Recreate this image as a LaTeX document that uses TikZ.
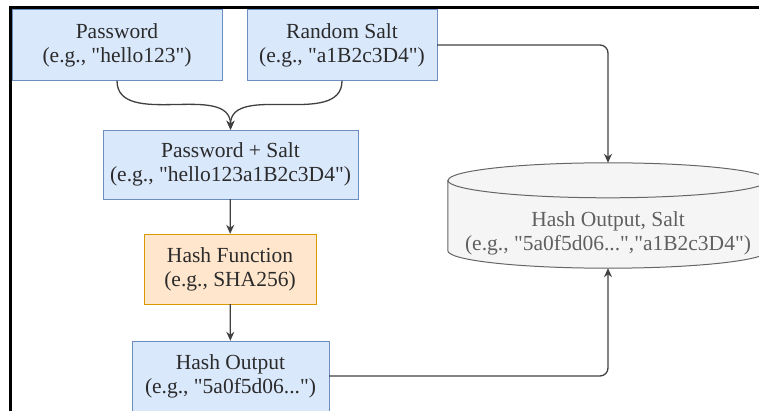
\documentclass[tikz,border=0pt]{standalone}
\usepackage{fontspec}
\setmainfont{Liberation Serif}[Ligatures=TeXOff]
\usetikzlibrary{shapes.geometric,arrows.meta,positioning}
\definecolor{boxfill}{HTML}{DAE8FC}
\definecolor{boxline}{HTML}{6C8EBF}
\definecolor{hashfill}{HTML}{FFE6CC}
\definecolor{hashline}{HTML}{D79B00}
\definecolor{storefill}{HTML}{F5F5F5}
\definecolor{storeline}{HTML}{666666}
\definecolor{ink}{HTML}{2B2B2B}
\tikzstyle{entry} = [draw=boxline,fill=boxfill,rectangle,align=center,inner sep=0,minimum height=71pt,font=\fontsize{21.5}{24}\selectfont,text=ink]
\tikzstyle{process} = [entry,draw=hashline,fill=hashfill]
\tikzstyle{store} = [rectangle,minimum width=320pt,minimum height=105pt,inner sep=0]
\tikzstyle{storetext} = [align=center,inner sep=0,font=\fontsize{21.5}{24}\selectfont,text=ink!75]
\tikzstyle{link} = [draw=ink!90,line width=1.3pt,-{Stealth[length=9pt,width=8pt]}]
\def \rc {8pt}
\def \ry {17.5pt}

\begin{document}
\begin{tikzpicture}[x=1pt,y=-1pt]
      \useasboundingbox (0,0) rectangle (759,411);
      \clip (0,0) rectangle (759,411);
      \draw[line width=3pt] (10.5,420) -- (10.5,7.5) -- (770,7.5);
      \node[entry,minimum width=210pt] (pw) at (117,45) {Password\\(e.g., "hello123")};
      \node[entry,minimum width=190pt] (salt) at (342,45) {Random Salt\\(e.g., "a1B2c3D4")};
      \node[entry,minimum width=255pt,minimum height=69pt] (mix) at (230.5,164.5) {Password + Salt\\(e.g., "hello123a1B2c3D4")};
      \node[process,minimum width=172pt,minimum height=70pt] (fn) at (230,269) {Hash Function\\(e.g., SHA256)};
      \node[entry,minimum width=197pt,minimum height=70pt] (out) at (230.5,376) {Hash Output\\(e.g., "5a0f5d06...")};
      \node[store] (db) at (608,215.5) {};
      % cylinder drawn round the db node
      \draw[storeline,fill=storefill,line width=1pt] ([yshift=-\ry]db.north west) -- ([yshift=\ry]db.south west)
        arc[start angle=180,end angle=360,x radius=160pt,y radius=\ry] -- ([yshift=-\ry]db.north east)
        arc[start angle=0,end angle=180,x radius=160pt,y radius=\ry] -- cycle;
      \draw[storeline,line width=1pt] ([yshift=-\ry]db.north west) arc[start angle=180,end angle=360,x radius=160pt,y radius=\ry];
      \node[storetext] (dbtext) at ([yshift=-\ry]db.center) {Hash Output, Salt\\(e.g., "5a0f5d06...","a1B2c3D4")};
      \draw[link] (pw.south) to[out=-90,in=90] (mix.north);
      \draw[link] (salt.south) to[out=-90,in=90] (mix.north);
      \draw[link] (mix) -- (fn);
      \draw[link] (fn) -- (out);
      \draw[link,rounded corners=\rc] (salt.east) -| (db.north);
      \draw[link,rounded corners=\rc] (out.east) -| (db.south);
    \end{tikzpicture}
\end{document}
